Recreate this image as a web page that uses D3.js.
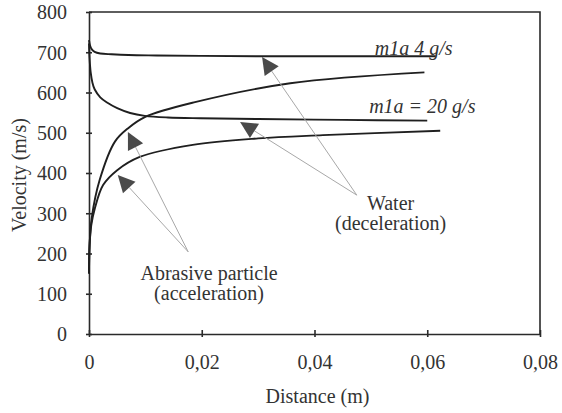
<!DOCTYPE html>
<html>
<head>
<meta charset="utf-8">
<script src="https://cdn.jsdelivr.net/npm/d3@7/dist/d3.min.js"></script>
</head>
<body style="margin:0">
<script>
// distance (m) and velocity (m/s)
var waterLowDist = [0, 0.0002, 0.0005, 0.001, 0.002, 0.004, 0.007, 0.012, 0.02, 0.03, 0.045, 0.0615];
var waterLowVel  = [730, 716, 707, 701, 697, 695, 693, 692, 691, 690, 690, 690];

var waterHighDist = [0, 0.0001, 0.0003, 0.0006, 0.001, 0.002, 0.0032, 0.005, 0.0073, 0.0099, 0.014, 0.0197, 0.03, 0.045, 0.06];
var waterHighVel  = [722, 685, 650, 625, 608, 588, 575, 561, 549, 542, 538, 536, 534, 532, 530];

var particleLowDist = [0, 0.0001, 0.0005, 0.0019, 0.0046, 0.007, 0.0099, 0.0188, 0.0357, 0.0595];
var particleLowVel  = [150, 220, 290, 383, 478, 512, 539, 576, 623, 650];

var particleHighDist = [0, 0.0001, 0.0004, 0.001, 0.0025, 0.005, 0.009, 0.0184, 0.03, 0.0415, 0.0623];
var particleHighVel  = [150, 220, 270, 310, 370, 407, 440, 470, 486, 494, 505];

var xTicks = [0, 0.02, 0.04, 0.06, 0.08];
var yTicks = [0, 100, 200, 300, 400, 500, 600, 700, 800];

var FONT = "Liberation Serif";
var INK = "#333";

var width = 562, height = 413;
var margin = {top: 12, right: 22, bottom: 79, left: 89};
var graphWidth = width - margin.left - margin.right;
var graphHeight = height - margin.top - margin.bottom;

var root = d3.select("body")
  .append("svg")
  .attr("width", width)
  .attr("height", height)
  .style("font-family", FONT);

var svg = root.append("g")
  .attr("transform", "translate(" + margin.left + "," + margin.top + ")");

var x = d3.scaleLinear().domain([0, 0.08]).range([0, graphWidth]);
var y = d3.scaleLinear().domain([0, 800]).range([graphHeight, 0]);

// frame (top and right)
svg.append("path")
  .attr("d", "M0,0H" + graphWidth + "V" + graphHeight)
  .attr("fill", "none")
  .attr("stroke", "#2a2a2a")
  .attr("stroke-width", 1.6);

// y axis
var yAxis = svg.append("g")
  .call(d3.axisLeft(y).tickValues(yTicks).tickSizeInner(3).tickSizeOuter(0).tickPadding(19));
yAxis.attr("font-family", FONT).attr("font-size", 20);
yAxis.selectAll("path, line").attr("stroke", "#2a2a2a").attr("stroke-width", 1.6);
yAxis.selectAll(".tick line").attr("x1", 3);
yAxis.selectAll(".tick text").attr("fill", INK).attr("dy", "0.34em").style("font-family", FONT);

// x axis
var xAxis = svg.append("g")
  .attr("transform", "translate(0," + graphHeight + ")")
  .call(d3.axisBottom(x).tickValues(xTicks).tickSizeInner(0).tickSizeOuter(0)
    .tickFormat(function(d) { return d === 0 ? "0" : d3.format(".2f")(d).replace(".", ","); }));
xAxis.attr("font-family", FONT).attr("font-size", 20);
xAxis.selectAll("path, line").attr("stroke", "#2a2a2a").attr("stroke-width", 1.6);
xAxis.selectAll(".tick line").attr("y1", -4).attr("y2", 3);
xAxis.selectAll(".tick text").attr("fill", INK).attr("y", 35).attr("dy", 0).style("font-family", FONT);

function label(xPos, yPos, txt) {
  return svg.append("text")
    .attr("x", xPos).attr("y", yPos)
    .attr("font-family", FONT)
    .style("font-family", FONT)
    .attr("font-size", 20)
    .attr("fill", INK)
    .text(txt);
}

// axis titles
label(graphWidth / 2 + 3, graphHeight + 69, "Distance (m)")
  .attr("text-anchor", "middle");

label(-163, -margin.left + 26, "Velocity (m/s)")
  .attr("transform", "rotate(-90)")
  .attr("text-anchor", "middle");

// curves
var line = d3.line()
  .x(function(d) { return x(d[0]); })
  .y(function(d) { return y(d[1]); })
  .curve(d3.curveCatmullRom.alpha(0.5));

[[waterLowDist, waterLowVel], [waterHighDist, waterHighVel],
 [particleLowDist, particleLowVel], [particleHighDist, particleHighVel]].forEach(function(s) {
  svg.append("path")
    .datum(d3.zip(s[0], s[1]))
    .attr("fill", "none")
    .attr("stroke", "#1f1f1f")
    .attr("stroke-width", 1.9)
    .attr("d", line);
});

// curve labels
label(x(0.0507), y(693), "m1a 4 g/s").attr("font-style", "italic");
label(x(0.0497), y(549), "m1a = 20 g/s").attr("font-style", "italic");

// pointers: [tail distance, tail velocity, tip distance, tip velocity]
var pointers = [
  [0.0475, 345, 0.0307, 688],
  [0.0475, 345, 0.0268, 527],
  [0.0176, 204, 0.0069, 502],
  [0.0176, 204, 0.0051, 395]
];

pointers.forEach(function(p) {
  var x0 = x(p[0]), y0 = y(p[1]), x1 = x(p[2]), y1 = y(p[3]);
  var dx = x1 - x0, dy = y1 - y0, len = Math.sqrt(dx * dx + dy * dy);
  var ux = dx / len, uy = dy / len;
  var headLen = 17, half = 8.5;
  var bx = x1 - ux * headLen, by = y1 - uy * headLen;
  svg.append("line")
    .attr("stroke", "#a8a8a8")
    .attr("stroke-width", 1)
    .attr("x1", x0).attr("y1", y0)
    .attr("x2", bx).attr("y2", by);
  svg.append("path")
    .attr("fill", "#4a4a4a")
    .attr("d", "M" + x1 + "," + y1 +
      "L" + (bx - uy * half) + "," + (by + ux * half) +
      "L" + (bx + uy * half) + "," + (by - ux * half) + "Z");
});

// annotations
function note(lines, d, v) {
  lines.forEach(function(t, i) {
    label(x(d), y(v) + i * 20, t).attr("text-anchor", "middle");
  });
}
note(["Water", "(deceleration)"], 0.0535, 308);
note(["Abrasive particle", "(acceleration)"], 0.0213, 134);
</script>
</body>
</html>
